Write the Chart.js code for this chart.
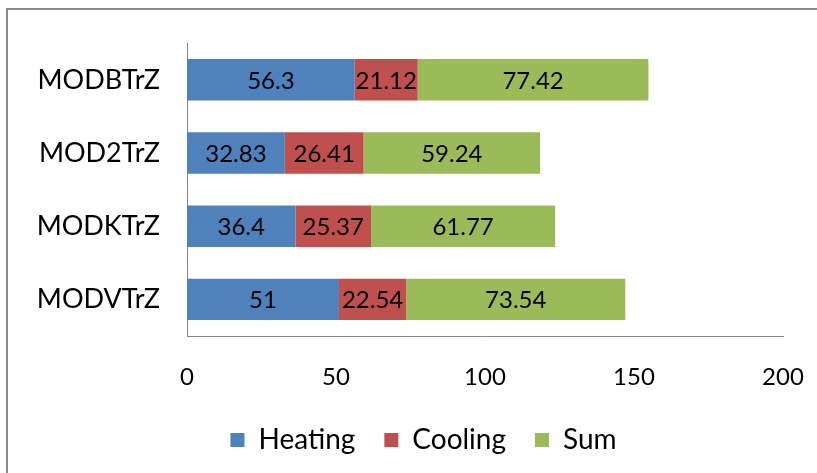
<!DOCTYPE html>
<html>
<head>
<meta charset="utf-8">
<script src="https://cdn.jsdelivr.net/npm/chart.js@4.4.1/dist/chart.umd.min.js"></script>
<style>
  html, body { margin: 0; padding: 0; background: #fff; }
  #wrap { width: 817px; height: 473px; position: relative; }
</style>
</head>
<body>
<div id="wrap"><canvas id="c" width="817" height="473"></canvas></div>
<script>
const categories = ['MODBTrZ', 'MOD2TrZ', 'MODKTrZ', 'MODVTrZ'];
const heating = [56.3, 32.83, 36.4, 51];
const cooling = [21.12, 26.41, 25.37, 22.54];
const sum = [77.42, 59.24, 61.77, 73.54];
const xTicks = [0, 50, 100, 150, 200];

const FONT = 'Lato, "Open Sans", sans-serif';

// Frame lines along the top and left edge of the figure
const framePlugin = {
  id: 'frame',
  beforeDraw(chart) {
    const ctx = chart.ctx;
    ctx.save();
    ctx.strokeStyle = '#8a8a8a';
    ctx.lineWidth = 2;
    ctx.beginPath();
    ctx.moveTo(6, 9);
    ctx.lineTo(chart.width, 9);
    ctx.moveTo(7, 8);
    ctx.lineTo(7, chart.height);
    ctx.stroke();
    ctx.restore();
  }
};

// Centre the legend row under the whole figure rather than the layout box
const legendShift = {
  id: 'legendShift',
  afterLayout(chart) {
    const lg = chart.legend;
    if (lg) {
      lg.left += 32;
      lg.right += 32;
    }
  }
};

// Value printed in the middle of each bar segment
const valueLabels = {
  id: 'valueLabels',
  afterDatasetsDraw(chart) {
    const ctx = chart.ctx;
    ctx.save();
    ctx.font = '24px ' + FONT;
    ctx.fillStyle = '#000';
    ctx.textAlign = 'center';
    ctx.textBaseline = 'middle';
    chart.data.datasets.forEach((ds, i) => {
      const meta = chart.getDatasetMeta(i);
      meta.data.forEach((bar, j) => {
        const p = bar.getCenterPoint();
        ctx.fillText(String(ds.data[j]), p.x, p.y + 1);
      });
    });
    ctx.restore();
  }
};

new Chart(document.getElementById('c'), {
  type: 'bar',
  data: {
    labels: categories,
    datasets: [
      { label: 'Heating', data: heating, backgroundColor: '#4F81BD' },
      { label: 'Cooling', data: cooling, backgroundColor: '#C0504D' },
      { label: 'Sum', data: sum, backgroundColor: '#9BBB59' }
    ]
  },
  options: {
    indexAxis: 'y',
    responsive: false,
    animation: false,
    layout: { padding: { top: 32, right: 34, left: 0, bottom: 9 } },
    datasets: { bar: { barPercentage: 1, categoryPercentage: 0.565, borderWidth: 0 } },
    scales: {
      x: {
        stacked: true,
        min: 0,
        max: 200,
        afterBuildTicks(scale) { scale.ticks = xTicks.map(v => ({ value: v })); },
        afterFit(scale) {
          scale.height = 61;
          scale.paddingLeft = 0;
          scale.paddingRight = 0;
        },
        grid: { display: false, drawTicks: false },
        border: { display: true, color: '#888', width: 1 },
        ticks: { color: '#000', padding: 27, font: { family: FONT, size: 24 } }
      },
      y: {
        stacked: true,
        afterFit(scale) { scale.width = 187; },
        grid: { display: false, drawTicks: false },
        border: { display: true, color: '#888', width: 1 },
        ticks: { color: '#000', padding: 27, font: { family: FONT, size: 27 } }
      }
    },
    plugins: {
      legend: {
        position: 'bottom',
        labels: {
          color: '#000',
          boxWidth: 14,
          boxHeight: 14,
          padding: 29,
          font: { family: FONT, size: 28 }
        }
      },
      tooltip: { enabled: false }
    }
  },
  plugins: [framePlugin, legendShift, valueLabels]
});
</script>
</body>
</html>
